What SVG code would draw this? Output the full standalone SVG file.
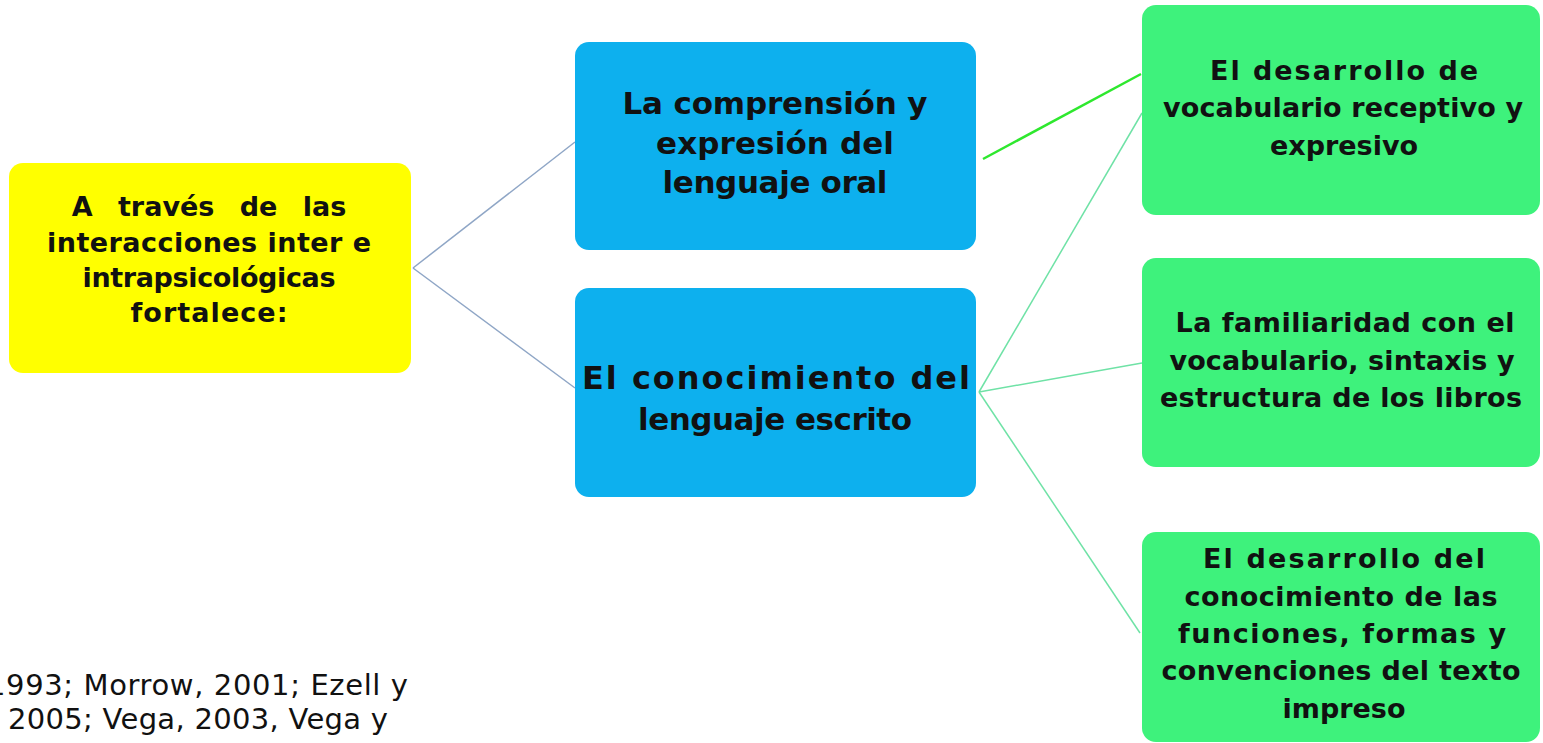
<svg xmlns="http://www.w3.org/2000/svg" width="1543" height="743" viewBox="0 0 1543 743">
<style>
.box{stroke:none}
.y{fill:#ffff00}
.b{fill:#0db0ee}
.g{fill:#3ef27c}
.t{font-family:"DejaVu Sans","Liberation Sans",sans-serif;font-weight:bold;fill:#111;text-anchor:middle}
.ref{font-family:"DejaVu Sans","Liberation Sans",sans-serif;fill:#111;font-size:29px}
.cb{stroke:#8fa6c6;stroke-width:1.5;fill:none}
.cg{stroke:#6fe2a6;stroke-width:1.5;fill:none}
.cbright{stroke:#2ee82e;stroke-width:2.5;fill:none}
</style>
<rect width="1543" height="743" fill="#ffffff"/>
<g id="connectors">
<line class="cb" x1="413" y1="268" x2="575" y2="142"/>
<line class="cb" x1="413" y1="268" x2="575" y2="388"/>
<line class="cbright" x1="983" y1="159" x2="1141" y2="74"/>
<line class="cg" x1="979" y1="392" x2="1142" y2="113"/>
<line class="cg" x1="979" y1="392" x2="1142" y2="363"/>
<line class="cg" x1="979" y1="392" x2="1140" y2="633"/>
</g>
<g id="node-yellow">
<rect class="box y" x="9" y="163" width="402" height="210" rx="14"/>
<text class="t" font-size="27"><tspan x="209" y="216" word-spacing="16">A través de las</tspan><tspan x="209" y="252" word-spacing="0" textLength="324" lengthAdjust="spacing">interacciones inter e</tspan><tspan x="209" y="287" textLength="253" lengthAdjust="spacing">intrapsicológicas</tspan><tspan x="209" y="322" textLength="157" lengthAdjust="spacing">fortalece:</tspan></text>
</g>
<g id="node-oral">
<rect class="box b" x="575" y="42" width="401" height="208" rx="14"/>
<text class="t" font-size="31"><tspan x="775" y="114" textLength="305" lengthAdjust="spacing">La comprensión y</tspan><tspan x="775" y="154" textLength="238" lengthAdjust="spacing">expresión del</tspan><tspan x="775" y="193" textLength="225" lengthAdjust="spacing">lenguaje oral</tspan></text>
</g>
<g id="node-escrito">
<rect class="box b" x="575" y="288" width="401" height="209" rx="14"/>
<text class="t" font-size="31"><tspan x="776" y="389" font-size="32" textLength="388" lengthAdjust="spacing">El conocimiento del</tspan><tspan x="775" y="430" textLength="274" lengthAdjust="spacing">lenguaje escrito</tspan></text>
</g>
<g id="node-vocabulario">
<rect class="box g" x="1142" y="5" width="398" height="210" rx="14"/>
<text class="t" font-size="27"><tspan x="1344" y="80" textLength="268" lengthAdjust="spacing">El desarrollo de</tspan><tspan x="1343" y="117" textLength="360" lengthAdjust="spacing">vocabulario receptivo y</tspan><tspan x="1344" y="155">expresivo</tspan></text>
</g>
<g id="node-familiaridad">
<rect class="box g" x="1142" y="258" width="398" height="209" rx="14"/>
<text class="t" font-size="27"><tspan x="1345" y="332" textLength="339" lengthAdjust="spacing">La familiaridad con el</tspan><tspan x="1342" y="370" textLength="345" lengthAdjust="spacing">vocabulario, sintaxis y</tspan><tspan x="1341" y="407" textLength="362" lengthAdjust="spacing">estructura de los libros</tspan></text>
</g>
<g id="node-funciones">
<rect class="box g" x="1142" y="532" width="398" height="210" rx="14"/>
<text class="t" font-size="27"><tspan x="1344" y="568" textLength="282" lengthAdjust="spacing">El desarrollo del</tspan><tspan x="1341" y="606" textLength="313" lengthAdjust="spacing">conocimiento de las</tspan><tspan x="1342" y="643" textLength="328" lengthAdjust="spacing">funciones, formas y</tspan><tspan x="1341" y="680" textLength="359" lengthAdjust="spacing">convenciones del texto</tspan><tspan x="1344" y="718">impreso</tspan></text>
</g>
<g id="reference">
<text class="ref"><tspan x="-13" y="695" textLength="421" lengthAdjust="spacing">1993; Morrow, 2001; Ezell y</tspan><tspan x="8" y="729" textLength="380" lengthAdjust="spacing">2005; Vega, 2003, Vega y</tspan></text>
</g>
</svg>
